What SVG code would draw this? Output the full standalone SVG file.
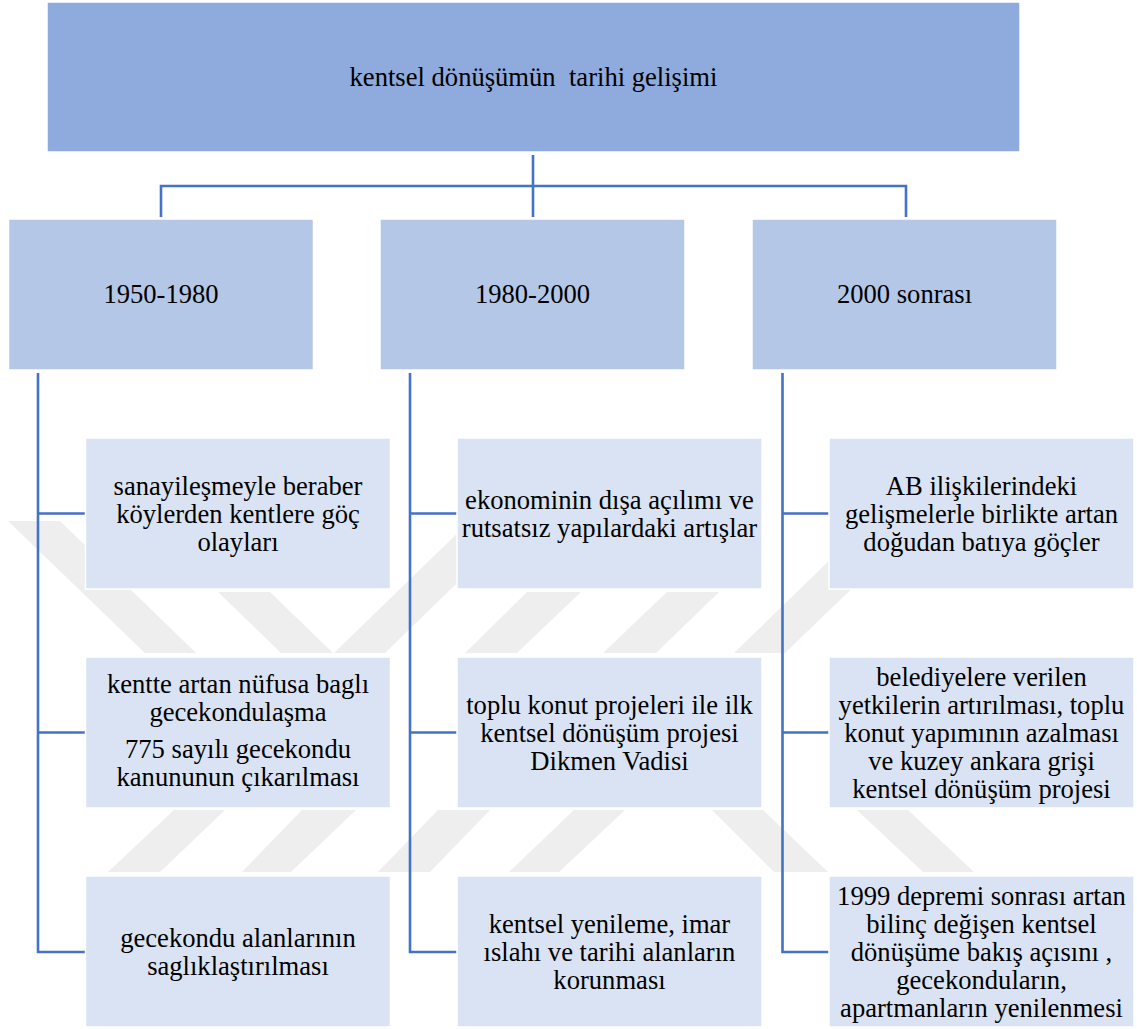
<svg xmlns="http://www.w3.org/2000/svg" width="1137" height="1029" viewBox="0 0 1137 1029">
<style>
.bg{fill:#ffffff}
.wm{fill:#eeeeee}
.n1{fill:#8FAADC;stroke:#ffffff;stroke-width:1.5}
.n2{fill:#B4C7E7;stroke:#ffffff;stroke-width:1.5}
.n3{fill:#DAE3F3;stroke:#ffffff;stroke-width:1.5}
.t{font-size:26.6px;fill:#000000;text-anchor:middle}
.c{stroke:#4472C4;stroke-width:2.6;fill:none}
</style>
<rect class="bg" x="0" y="0" width="1137" height="1029"/>
<g id="watermark">
<polygon class="wm" points="8,521 60,521 196,653 145,653"/>
<polygon class="wm" points="218,592 270,592 333,653 281,653"/>
<polygon class="wm" points="470,521 521,521 385,653 334,653"/>
<polygon class="wm" points="527,592 581,592 517,653 465,653"/>
<polygon class="wm" points="667,592 719,592 656,653 603,653"/>
<polygon class="wm" points="870,521 922,521 785,653 734,653"/>
<polygon class="wm" points="174,810 225,810 160,872 108,872"/>
<polygon class="wm" points="302,810 356,810 291,872 242,872"/>
<polygon class="wm" points="438,810 490,810 430,872 378,872"/>
<polygon class="wm" points="574,810 625,810 559,872 509,872"/>
<polygon class="wm" points="712,810 763,810 828,872 774,872"/>
<polygon class="wm" points="857,810 908,810 974,872 923,872"/>
</g>
<g id="connectors">
<path class="c" d="M533,155 V217"/>
<path class="c" d="M161,217 V186 H906 V217"/>
<path class="c" d="M38,373 V952 H85 M38,513.5 H85 M38,732.5 H85"/>
<path class="c" d="M410,373 V952 H457 M410,513.5 H457 M410,732.5 H457"/>
<path class="c" d="M782.5,373 V952 H829 M782.5,513.5 H829 M782.5,732.5 H829"/>
</g>
<g font-family="Liberation Serif, Tinos, Times New Roman, DejaVu Serif, serif">
<g id="root">
<rect class="n1" x="47" y="2" width="973" height="150"/>
<text class="t" x="533.5" y="86" xml:space="preserve">kentsel dönüşümün  tarihi gelişimi</text>
</g>
<g id="p1950">
<rect class="n2" x="8.5" y="219" width="305" height="151"/>
<text class="t" x="161" y="303">1950-1980</text>
</g>
<g id="p1980">
<rect class="n2" x="380" y="219" width="305" height="151"/>
<text class="t" x="532.5" y="303">1980-2000</text>
</g>
<g id="p2000">
<rect class="n2" x="752" y="219" width="305" height="151"/>
<text class="t" x="904.5" y="303">2000 sonrası</text>
</g>
<g id="a1">
<rect class="n3" x="85.5" y="438" width="305" height="151"/>
<text class="t" x="238" y="494.5">sanayileşmeyle beraber</text>
<text class="t" x="238" y="522.5">köylerden kentlere göç</text>
<text class="t" x="238" y="550.5">olayları</text>
</g>
<g id="a2">
<rect class="n3" x="85.5" y="657" width="305" height="151"/>
<text class="t" x="238" y="693">kentte artan nüfusa baglı</text>
<text class="t" x="238" y="721">gecekondulaşma</text>
<text class="t" x="238" y="758">775 sayılı gecekondu</text>
<text class="t" x="238" y="786">kanununun çıkarılması</text>
</g>
<g id="a3">
<rect class="n3" x="85.5" y="876" width="305" height="151"/>
<text class="t" x="238" y="946.5">gecekondu alanlarının</text>
<text class="t" x="238" y="974.5">saglıklaştırılması</text>
</g>
<g id="b1">
<rect class="n3" x="457" y="438" width="305" height="151"/>
<text class="t" x="609.5" y="508.5">ekonominin dışa açılımı ve</text>
<text class="t" x="609.5" y="536.5">rutsatsız yapılardaki artışlar</text>
</g>
<g id="b2">
<rect class="n3" x="457" y="657" width="305" height="151"/>
<text class="t" x="609.5" y="713.5">toplu konut projeleri ile ilk</text>
<text class="t" x="609.5" y="741.5">kentsel dönüşüm projesi</text>
<text class="t" x="609.5" y="769.5">Dikmen Vadisi</text>
</g>
<g id="b3">
<rect class="n3" x="457" y="876" width="305" height="151"/>
<text class="t" x="609.5" y="932.5">kentsel yenileme, imar</text>
<text class="t" x="609.5" y="960.5">ıslahı ve tarihi alanların</text>
<text class="t" x="609.5" y="988.5">korunması</text>
</g>
<g id="c1">
<rect class="n3" x="829" y="438" width="305" height="151"/>
<text class="t" x="981.5" y="494.5">AB ilişkilerindeki</text>
<text class="t" x="981.5" y="522.5">gelişmelerle birlikte artan</text>
<text class="t" x="981.5" y="550.5">doğudan batıya göçler</text>
</g>
<g id="c2">
<rect class="n3" x="829" y="657" width="305" height="151"/>
<text class="t" x="981.5" y="685.5">belediyelere verilen</text>
<text class="t" x="981.5" y="713.5">yetkilerin artırılması, toplu</text>
<text class="t" x="981.5" y="741.5">konut yapımının azalması</text>
<text class="t" x="981.5" y="769.5">ve kuzey ankara grişi</text>
<text class="t" x="981.5" y="797.5">kentsel dönüşüm projesi</text>
</g>
<g id="c3">
<rect class="n3" x="829" y="876" width="305" height="151"/>
<text class="t" x="981.5" y="904.5">1999 depremi sonrası artan</text>
<text class="t" x="981.5" y="932.5">bilinç değişen kentsel</text>
<text class="t" x="981.5" y="960.5">dönüşüme bakış açısını ,</text>
<text class="t" x="981.5" y="988.5">gecekonduların,</text>
<text class="t" x="981.5" y="1016.5">apartmanların yenilenmesi</text>
</g>
</g>
</svg>
